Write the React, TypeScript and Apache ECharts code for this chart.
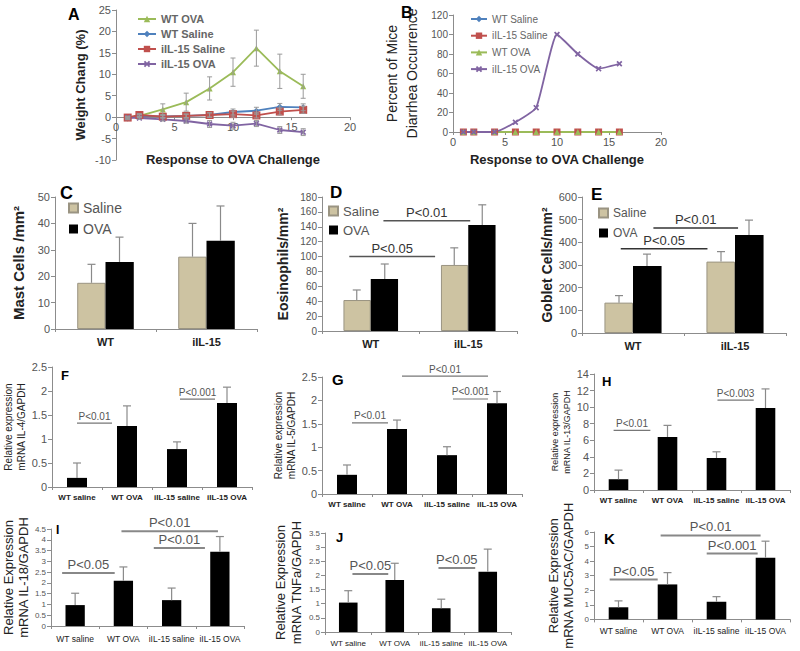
import React, { useEffect, useRef } from "react";
import * as echarts from "echarts";

// ---------------- data ----------------
// Panel A: weight change (%)
const days = [1, 2, 4, 6, 8, 10, 12, 14, 16];
const wtOvaWeight = [0, 0.3, 1.8, 3.5, 6.7, 10.5, 16.1, 10.7, 7.2];
const wtOvaWeightErr = [0, 0.4, 1.3, 2.1, 2.7, 3.3, 4.2, 4.0, 2.8];
const wtSalineWeight = [-0.3, 0.3, 0.2, 0.3, 0.5, 1.2, 1.5, 2.4, 2.3];
const wtSalineWeightErr = [0.3, 0.3, 0.4, 0.4, 0.5, 0.7, 0.8, 0.8, 0.8];
const il15SalineWeight = [-0.1, 0.5, 0.1, 0.3, 0.5, 0.7, 0.4, 1.3, 1.7];
const il15SalineWeightErr = [0.3, 0.3, 0.3, 0.4, 0.5, 0.7, 0.6, 0.8, 0.8];
const il15OvaWeight = [-0.1, -0.2, -0.5, -0.9, -1.6, -2.0, -1.5, -3.0, -3.5];
const il15OvaWeightErr = [0.3, 0.3, 0.4, 0.5, 0.8, 0.8, 0.7, 0.8, 0.8];

// Panel B: percent of mice with diarrhea
const wtSalineDiarrhea = [0, 0, 0, 0, 0, 0, 0, 0, 0];
const il15SalineDiarrhea = [0, 0, 0, 0, 0, 0, 0, 0, 0];
const wtOvaDiarrhea = [0, 0, 0, 0, 0, 0, 0, 0, 0];
const il15OvaDiarrhea = [0, 0, 0, 10, 25, 100, 80, 65, 70];

// Panels C-E
const groups2 = ["WT", "iIL-15"];
const mastSaline = [17.5, 27.4];
const mastSalineErr = [7, 12.6];
const mastOva = [25.4, 33.4];
const mastOvaErr = [9.4, 13.2];
const eosSaline = [41.6, 88.7];
const eosSalineErr = [13.5, 23];
const eosOva = [70, 142.5];
const eosOvaErr = [20, 27];
const gobletSaline = [134, 315];
const gobletSalineErr = [31, 44];
const gobletOva = [296, 432];
const gobletOvaErr = [52, 66];

// Panels F-K
const groups4 = ["WT saline", "WT OVA", "iIL-15 saline", "iIL-15 OVA"];
const il4 = [0.19, 1.27, 0.79, 1.75];
const il4Err = [0.31, 0.42, 0.15, 0.33];
const il5 = [0.41, 1.39, 0.83, 1.94];
const il5Err = [0.21, 0.19, 0.18, 0.25];
const il13 = [1.3, 6.4, 3.86, 9.9];
const il13Err = [1.1, 1.4, 0.75, 2.3];
const il18 = [0.97, 2.1, 1.2, 3.45];
const il18Err = [0.55, 0.64, 0.56, 0.7];
const tnfa = [1.04, 1.84, 0.84, 2.13];
const tnfaErr = [0.42, 0.59, 0.32, 0.8];
const muc5ac = [0.83, 2.4, 1.21, 4.24];
const muc5acErr = [0.44, 0.81, 0.35, 1.13];

// significance bars: from/to in category units (0 = centre of first group)
const sigD = [
  { from: -0.22, to: 0.66, y: 100, label: "P<0.05" },
  { from: 0.13, to: 1.02, y: 148, label: "P<0.01" },
];
const sigE = [
  { from: -0.12, to: 0.73, y: 372, label: "P<0.05" },
  { from: 0.2, to: 1.03, y: 463, label: "P<0.01" },
];
const sigF = [
  { from: 0.0, to: 0.7, y: 1.33, label: "P<0.01" },
  { from: 2.06, to: 2.76, y: 1.83, label: "P<0.001" },
];
const sigG = [
  { from: 0.1, to: 0.82, y: 1.52, label: "P<0.01" },
  { from: 1.1, to: 2.82, y: 2.52, label: "P<0.01" },
  { from: 2.12, to: 2.82, y: 2.03, label: "P<0.001" },
];
const sigH = [
  { from: -0.1, to: 0.65, y: 7.2, label: "P<0.01" },
  { from: 2.02, to: 2.76, y: 10.85, label: "P<0.003" },
];
const sigI = [
  { from: -0.27, to: 0.82, y: 2.46, label: "P<0.05" },
  { from: 0.96, to: 2.96, y: 4.4, label: "P<0.01" },
  { from: 1.63, to: 2.69, y: 3.62, label: "P<0.01" },
];
const sigJ = [
  { from: 0.09, to: 0.86, y: 2.05, label: "P<0.05" },
  { from: 1.94, to: 2.73, y: 2.26, label: "P<0.05" },
];
const sigK = [
  { from: -0.18, to: 0.8, y: 2.73, label: "P<0.05" },
  { from: 0.86, to: 2.9, y: 5.76, label: "P<0.01" },
  { from: 1.8, to: 2.84, y: 4.52, label: "P<0.001" },
];

// ---------------- styling ----------------
const FONT = '"Liberation Sans", Arial, Helvetica, sans-serif';
const AXIS_GRAY = "#8c8c8c";
const TICK_TEXT = "#555";
const GREEN = "#9bbb59";
const BLUE = "#4f81bd";
const RED = "#c0504d";
const PURPLE = "#8064a2";
const TAN = "#cdc3a2";
const CROSS = "path://M2,0L5,3L8,0L10,2L7,5L10,8L8,10L5,7L2,10L0,8L3,5L0,2Z";

const grids = [
  { left: 116, top: 10, width: 234, height: 150 }, // A
  { left: 453, top: 15, width: 208, height: 117 }, // B
  { left: 55, top: 197, width: 202, height: 132 }, // C
  { left: 322, top: 197, width: 195, height: 134 }, // D
  { left: 582, top: 197, width: 204, height: 136 }, // E
  { left: 52, top: 367, width: 200, height: 120 }, // F
  { left: 322, top: 377, width: 200, height: 117 }, // G
  { left: 594, top: 374, width: 196, height: 116 }, // H
  { left: 48, top: 529, width: 196, height: 97 }, // I
  { left: 325, top: 533, width: 186, height: 99 }, // J
  { left: 594, top: 532, width: 196, height: 101 }, // K
];

function valueYAxis(
  gridIndex: number,
  min: number,
  max: number,
  interval: number,
  name: string,
  nameGap: number,
  nameSize: number,
  nameBold: boolean,
  labelSize: number,
  lineHeight?: number
) {
  return {
    type: "value",
    gridIndex,
    min,
    max,
    interval,
    name,
    nameLocation: "middle",
    nameGap,
    nameRotate: 90,
    nameTextStyle: {
      fontFamily: FONT,
      fontSize: nameSize,
      fontWeight: nameBold ? "bold" : "normal",
      color: "#222",
      lineHeight: lineHeight,
    },
    axisLine: { show: true, lineStyle: { color: AXIS_GRAY } },
    axisTick: { show: true, length: 4, lineStyle: { color: AXIS_GRAY } },
    axisLabel: { fontFamily: FONT, fontSize: labelSize, color: TICK_TEXT, margin: 5 },
    splitLine: { show: false },
  };
}

function valueXAxis(gridIndex: number, nameGap: number, offset: number) {
  return {
    type: "value",
    gridIndex,
    min: 0,
    max: 20,
    interval: 5,
    offset,
    name: "Response to OVA Challenge",
    nameLocation: "middle",
    nameGap,
    nameTextStyle: { fontFamily: FONT, fontSize: 13, fontWeight: "bold", color: "#222" },
    axisLine: { show: true, onZero: false, lineStyle: { color: AXIS_GRAY } },
    axisTick: { show: true, length: 3, lineStyle: { color: AXIS_GRAY } },
    axisLabel: { fontFamily: FONT, fontSize: 11, color: TICK_TEXT, margin: 4 },
    splitLine: { show: false },
  };
}

function catXAxis(gridIndex: number, data: string[], labelSize: number, bold: boolean, margin: number) {
  return {
    type: "category",
    gridIndex,
    data,
    axisLine: { show: true, onZero: false, lineStyle: { color: AXIS_GRAY } },
    axisTick: { show: true, length: 3, lineStyle: { color: AXIS_GRAY } },
    axisLabel: {
      fontFamily: FONT,
      fontSize: labelSize,
      fontWeight: bold ? "bold" : "normal",
      color: "#222",
      margin,
      interval: 0,
    },
    splitLine: { show: false },
  };
}

function errorBarSeries(
  axisIndex: number,
  xs: number[],
  vals: number[],
  errs: number[],
  offset: number,
  cap: number,
  both: boolean,
  color: string,
  lw: number
) {
  return {
    type: "custom",
    xAxisIndex: axisIndex,
    yAxisIndex: axisIndex,
    coordinateSystem: "cartesian2d",
    silent: true,
    z: 5,
    clip: false,
    encode: { x: 0, y: 1 },
    data: xs.map((x, i) => [x, vals[i], errs[i]]),
    renderItem: (params: any, api: any) => {
      const x = api.value(0);
      const y = api.value(1);
      const e = api.value(2);
      const hi = api.coord([x, y + e]);
      const lo = api.coord([x, both ? y - e : y]);
      const cx = hi[0] + offset;
      const style = { stroke: color, lineWidth: lw };
      const children: any[] = [
        { type: "line", shape: { x1: cx, y1: hi[1], x2: cx, y2: lo[1] }, style },
        { type: "line", shape: { x1: cx - cap, y1: hi[1], x2: cx + cap, y2: hi[1] }, style },
      ];
      if (both) {
        children.push({ type: "line", shape: { x1: cx - cap, y1: lo[1], x2: cx + cap, y2: lo[1] }, style });
      }
      return { type: "group", children };
    },
  };
}

function sigSeries(
  axisIndex: number,
  sigs: { from: number; to: number; y: number; label: string }[],
  lineColor: string,
  textColor: string,
  lw: number,
  fontSize: number
) {
  return {
    type: "custom",
    xAxisIndex: axisIndex,
    yAxisIndex: axisIndex,
    coordinateSystem: "cartesian2d",
    silent: true,
    z: 6,
    clip: false,
    encode: { x: 0, y: 1 },
    data: sigs.map((s) => [0, s.y]),
    renderItem: (params: any, api: any) => {
      const s = sigs[params.dataIndex];
      const base = api.coord([0, api.value(1)]);
      const band = api.size([1, 0], [0, api.value(1)])[0];
      const x1 = base[0] + s.from * band;
      const x2 = base[0] + s.to * band;
      return {
        type: "group",
        children: [
          { type: "line", shape: { x1, y1: base[1], x2, y2: base[1] }, style: { stroke: lineColor, lineWidth: lw } },
          {
            type: "text",
            style: {
              text: s.label,
              x: (x1 + x2) / 2,
              y: base[1] - 2,
              align: "center",
              verticalAlign: "bottom",
              fill: textColor,
              fontSize,
              fontFamily: FONT,
            },
          },
        ],
      };
    },
  };
}

function lineSeries(
  name: string,
  axisIndex: number,
  vals: number[],
  color: string,
  symbol: string,
  symbolSize: number,
  smooth: number | false
) {
  return {
    type: "line",
    name,
    xAxisIndex: axisIndex,
    yAxisIndex: axisIndex,
    data: days.map((d, i) => [d, vals[i]]),
    symbol,
    symbolSize,
    smooth,
    lineStyle: { color, width: 1.8 },
    itemStyle: { color },
    z: 3,
  };
}

function pairBars(axisIndex: number, saline: number[], salineErr: number[], ova: number[], ovaErr: number[]) {
  const idx = groups2.map((_, i) => i);
  return [
    {
      type: "bar",
      name: "Saline",
      xAxisIndex: axisIndex,
      yAxisIndex: axisIndex,
      data: saline,
      barWidth: "28%",
      barGap: "0%",
      itemStyle: { color: TAN, borderColor: "#9a9482", borderWidth: 1 },
    },
    {
      type: "bar",
      name: "OVA",
      xAxisIndex: axisIndex,
      yAxisIndex: axisIndex,
      data: ova,
      barWidth: "28%",
      barGap: "0%",
      itemStyle: { color: "#000" },
    },
    errorBarSeries(axisIndex, idx, saline, salineErr, -14, 4, false, "#8a8a8a", 1.2),
    errorBarSeries(axisIndex, idx, ova, ovaErr, 14, 4, false, "#8a8a8a", 1.2),
  ];
}

function singleBars(axisIndex: number, name: string, vals: number[], errs: number[]) {
  const idx = groups4.map((_, i) => i);
  return [
    {
      type: "bar",
      name,
      xAxisIndex: axisIndex,
      yAxisIndex: axisIndex,
      data: vals,
      barWidth: "40%",
      itemStyle: { color: "#000" },
    },
    errorBarSeries(axisIndex, idx, vals, errs, 0, 4, false, "#8a8a8a", 1.2),
  ];
}

function buildOption() {
  const letters = [
    { t: "A", x: 68, y: 6, s: 16 },
    { t: "B", x: 401, y: 4, s: 16 },
    { t: "C", x: 60, y: 184, s: 18 },
    { t: "D", x: 330, y: 184, s: 17 },
    { t: "E", x: 591, y: 186, s: 17 },
    { t: "F", x: 61, y: 369, s: 13 },
    { t: "G", x: 332, y: 372, s: 15 },
    { t: "H", x: 602, y: 375, s: 13 },
    { t: "I", x: 56, y: 524, s: 12 },
    { t: "J", x: 336, y: 531, s: 13 },
    { t: "K", x: 604, y: 531, s: 15 },
  ];

  const legendCommon = {
    orient: "vertical",
    selectedMode: false,
    padding: 0,
  };

  // x axis of A sits on the zero line: offset from grid bottom to y = 0
  const aZeroOffset = -(150 * (0 - -10)) / (25 - -10);

  return {
    animation: false,
    backgroundColor: "#fff",
    grid: grids.map((g) => ({ ...g, containLabel: false })),
    xAxis: [
      valueXAxis(0, 36, aZeroOffset),
      valueXAxis(1, 21, 0),
      catXAxis(2, groups2, 11, true, 7),
      catXAxis(3, groups2, 11, true, 7),
      catXAxis(4, groups2, 11, true, 7),
      catXAxis(5, groups4, 8, true, 6),
      catXAxis(6, groups4, 8, true, 6),
      catXAxis(7, groups4, 8, true, 6),
      catXAxis(8, groups4, 8.5, false, 8),
      catXAxis(9, groups4, 8, false, 7),
      catXAxis(10, groups4, 8.5, false, 7),
    ],
    yAxis: [
      valueYAxis(0, -10, 25, 5, "Weight Chang (%)", 29, 13, true, 11),
      valueYAxis(1, 0, 120, 20, "Percent of Mice\nDiarrhea Occurrence", 31, 14, false, 10, 20),
      valueYAxis(2, 0, 50, 10, "Mast Cells /mm²", 29, 15, true, 11),
      valueYAxis(3, 0, 180, 20, "Eosinophils/mm²", 32, 14, true, 10),
      valueYAxis(4, 0, 600, 100, "Goblet Cells/mm²", 28, 14, true, 11),
      valueYAxis(5, 0, 2.5, 0.5, "Relative expression\nmRNA IL-4/GAPDH", 21, 10, false, 11, 13),
      valueYAxis(6, 0, 2.5, 0.5, "Relative expression\nmRNA IL-5/GAPDH", 20, 10, false, 11, 13),
      valueYAxis(7, 0, 14, 2, "Relative expression\nmRNA IL-13/GAPDH", 17, 9, false, 11, 12),
      valueYAxis(8, 0, 4.5, 0.5, "Relative Expression\nmRNA IL-18/GAPDH", 16, 13, false, 8, 15),
      valueYAxis(9, 0, 3.5, 0.5, "Relative Expression\nmRNA TNFa/GAPDH", 19, 13, false, 8, 16),
      valueYAxis(10, 0, 6, 1, "Relative Expression\nmRNA MUC5AC/GAPDH", 18, 13, false, 8, 15),
    ],
    legend: [
      {
        ...legendCommon,
        data: ["WT OVA", "WT Saline", "iIL-15 Saline", "iIL-15 OVA"],
        left: 137,
        top: 13,
        itemWidth: 18,
        itemHeight: 8,
        itemGap: 3,
        textStyle: { fontFamily: FONT, fontSize: 11, fontWeight: "bold", color: "#666", lineHeight: 12 },
      },
      {
        ...legendCommon,
        data: ["WT Saline", "iIL-15 Saline", "WT OVA", "iIL-15 OVA"],
        left: 470,
        top: 13,
        itemWidth: 16,
        itemHeight: 8,
        itemGap: 4.7,
        textStyle: { fontFamily: FONT, fontSize: 10, color: "#666", lineHeight: 12 },
      },
      {
        ...legendCommon,
        data: ["Saline", "OVA"],
        left: 68,
        top: 201,
        icon: "rect",
        itemWidth: 9,
        itemHeight: 9,
        itemGap: 7,
        textStyle: { fontFamily: FONT, fontSize: 14, color: "#555", lineHeight: 14 },
      },
      {
        ...legendCommon,
        data: ["Saline", "OVA"],
        left: 328,
        top: 204,
        icon: "rect",
        itemWidth: 9,
        itemHeight: 9,
        itemGap: 5,
        textStyle: { fontFamily: FONT, fontSize: 13, color: "#555", lineHeight: 14 },
      },
      {
        ...legendCommon,
        data: ["Saline", "OVA"],
        left: 598,
        top: 206,
        icon: "rect",
        itemWidth: 9,
        itemHeight: 9,
        itemGap: 6,
        textStyle: { fontFamily: FONT, fontSize: 12, color: "#555", lineHeight: 14 },
      },
    ],
    graphic: letters.map((l) => ({
      type: "text",
      left: l.x,
      top: l.y,
      style: { text: l.t, fontSize: l.s, fontWeight: "bold", fontFamily: FONT, fill: "#000" },
    })),
    series: [
      // A
      errorBarSeries(0, days, wtOvaWeight, wtOvaWeightErr, 0, 2.5, true, "#9a9a9a", 1),
      errorBarSeries(0, days, wtSalineWeight, wtSalineWeightErr, 0, 2.5, true, "#9a9a9a", 1),
      errorBarSeries(0, days, il15SalineWeight, il15SalineWeightErr, 0, 2.5, true, "#9a9a9a", 1),
      errorBarSeries(0, days, il15OvaWeight, il15OvaWeightErr, 0, 2.5, true, "#9a9a9a", 1),
      lineSeries("WT OVA", 0, wtOvaWeight, GREEN, "triangle", 6, false),
      lineSeries("WT Saline", 0, wtSalineWeight, BLUE, "diamond", 6, false),
      lineSeries("iIL-15 Saline", 0, il15SalineWeight, RED, "rect", 8, false),
      lineSeries("iIL-15 OVA", 0, il15OvaWeight, PURPLE, CROSS, 6, false),
      // B
      lineSeries("WT Saline", 1, wtSalineDiarrhea, BLUE, "diamond", 6, false),
      lineSeries("iIL-15 Saline", 1, il15SalineDiarrhea, RED, "rect", 7, false),
      lineSeries("WT OVA", 1, wtOvaDiarrhea, GREEN, "triangle", 6, false),
      lineSeries("iIL-15 OVA", 1, il15OvaDiarrhea, PURPLE, CROSS, 6, 0.15),
      // C, D, E
      ...pairBars(2, mastSaline, mastSalineErr, mastOva, mastOvaErr),
      ...pairBars(3, eosSaline, eosSalineErr, eosOva, eosOvaErr),
      ...pairBars(4, gobletSaline, gobletSalineErr, gobletOva, gobletOvaErr),
      sigSeries(3, sigD, "#555", "#333", 1.5, 13),
      sigSeries(4, sigE, "#333", "#333", 1.5, 13),
      // F-K
      ...singleBars(5, "IL-4", il4, il4Err),
      ...singleBars(6, "IL-5", il5, il5Err),
      ...singleBars(7, "IL-13", il13, il13Err),
      ...singleBars(8, "IL-18", il18, il18Err),
      ...singleBars(9, "TNFa", tnfa, tnfaErr),
      ...singleBars(10, "MUC5AC", muc5ac, muc5acErr),
      sigSeries(5, sigF, "#777", "#555", 1.2, 10),
      sigSeries(6, sigG, "#777", "#555", 1.2, 10),
      sigSeries(7, sigH, "#777", "#555", 1.2, 10),
      sigSeries(8, sigI, "#888", "#555", 2, 13),
      sigSeries(9, sigJ, "#888", "#555", 2, 13),
      sigSeries(10, sigK, "#888", "#555", 2, 13),
    ],
  };
}

export default function App() {
  const ref = useRef<HTMLDivElement>(null);
  useEffect(() => {
    if (!ref.current) return;
    const chart = echarts.init(ref.current, undefined, { renderer: "svg" });
    chart.setOption(buildOption() as any);
    return () => chart.dispose();
  }, []);
  return (
    <div
      ref={ref}
      style={{ position: "absolute", left: 0, top: 0, width: 800, height: 651, background: "#fff" }}
    />
  );
}
